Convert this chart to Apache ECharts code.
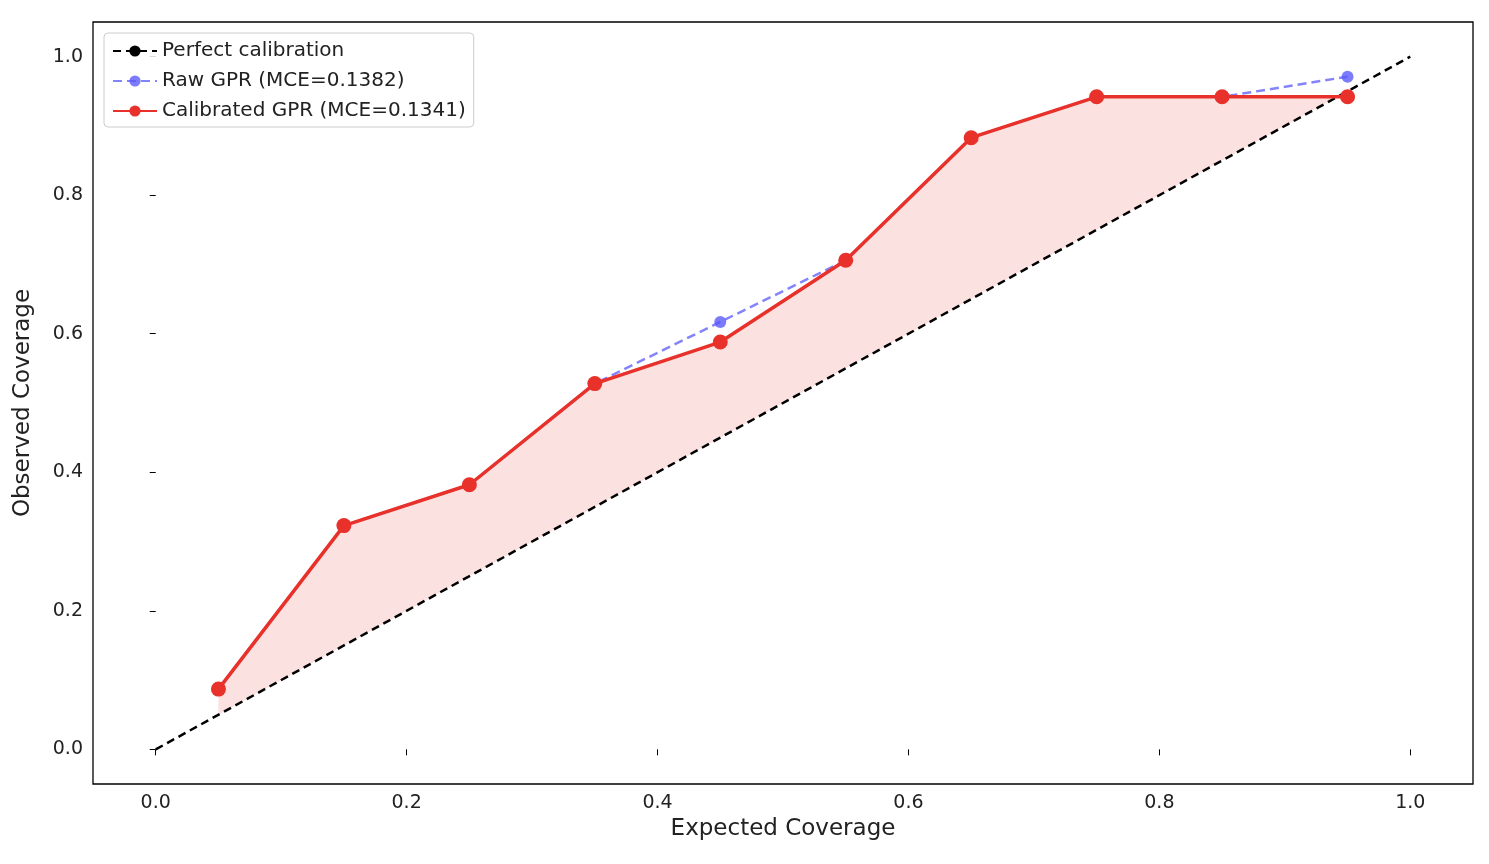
<!DOCTYPE html>
<html><head><meta charset="utf-8">
<script src="https://cdn.jsdelivr.net/npm/echarts@6/dist/echarts.min.js"></script>
<style>html,body{margin:0;background:#fff}#c{width:1489px;height:864px}</style>
</head><body><div id="c"></div>
<script>
// 数据
var expected = [0.05, 0.15, 0.25, 0.35, 0.45, 0.55, 0.65, 0.75, 0.85, 0.95];
var rawObs = [0.087, 0.323, 0.382, 0.528, 0.617, 0.706, 0.883, 0.942, 0.942, 0.971];
var calObs = [0.087, 0.323, 0.382, 0.528, 0.588, 0.706, 0.883, 0.942, 0.942, 0.942];
var diagX = [0, 1];
var tickLabels = ['0.0', '0.2', '0.4', '0.6', '0.8', '1.0'];

function pairs(xs, ys) {
	var out = [];
	for (var i = 0; i < xs.length; i++) out.push([xs[i], ys[i]]);
	return out;
}
var font = 'DejaVu Sans';
var myChart = echarts.init(document.getElementById('c'));
var axisCommon = {
	type: 'value', min: -0.05, max: 1.05, interval: 0.2,
	splitLine: { show: false },
	axisLine: { show: false },
	axisTick: { show: true, length: 6, lineStyle: { color: '#000' } },
	axisLabel: {
		color: '#222', fontSize: 19, fontFamily: font,
		formatter: function (v) {
			var k = Math.round(v * 10) / 2;
			return (Math.abs(v * 5 - Math.round(v * 5)) < 1e-6 && k >= 0) ? tickLabels[Math.round(v * 5)] : '';
		}
	},
	customValues: [0, 0.2, 0.4, 0.6, 0.8, 1.0]
};
var option = {
	animation: false,
	grid: { left: 93, right: 16, top: 22, bottom: 80, show: true, borderColor: '#000', borderWidth: 1.3 },
	xAxis: Object.assign({}, axisCommon, {
		name: 'Expected Coverage', nameLocation: 'middle', nameGap: 30,
		nameTextStyle: { fontSize: 23, fontFamily: font, color: '#222' },
		axisTick: { show: true, length: 6, lineStyle: { color: '#000' }, customValues: [0, 0.2, 0.4, 0.6, 0.8, 1.0] },
		axisLabel: Object.assign({}, axisCommon.axisLabel, { margin: 10, customValues: [0, 0.2, 0.4, 0.6, 0.8, 1.0] })
	}),
	yAxis: Object.assign({}, axisCommon, {
		name: 'Observed Coverage', nameLocation: 'middle', nameGap: 58,
		nameTextStyle: { fontSize: 23, fontFamily: font, color: '#222' },
		axisTick: { show: true, length: 6, lineStyle: { color: '#000' }, customValues: [0, 0.2, 0.4, 0.6, 0.8, 1.0] },
		axisLabel: Object.assign({}, axisCommon.axisLabel, { margin: 10, customValues: [0, 0.2, 0.4, 0.6, 0.8, 1.0] })
	}),
	legend: {
		orient: 'vertical', left: 104, top: 33, padding: [8, 8, 6, 8],
		itemGap: 10, itemWidth: 44, itemHeight: 14,
		borderColor: '#ccc', borderWidth: 1, borderRadius: 4, backgroundColor: 'rgba(255,255,255,0.85)',
		textStyle: { fontSize: 20, fontFamily: font, color: '#222' },
		data: ['Perfect calibration', 'Raw GPR (MCE=0.1382)', 'Calibrated GPR (MCE=0.1341)']
	},
	series: [{
		type: 'custom', silent: true, z: 1,
		renderItem: function (params, api) {
			var pts = [];
			for (var i = 0; i < expected.length; i++) pts.push(api.coord([expected[i], calObs[i]]));
			for (var j = expected.length - 1; j >= 0; j--) pts.push(api.coord([expected[j], expected[j]]));
			return params.dataIndex === 0 ? { type: 'polygon', shape: { points: pts }, style: { fill: 'rgba(236,90,90,0.18)' } } : null;
		},
		data: [[0, 0]]
	}, {
		name: 'Perfect calibration', type: 'line', symbol: 'none', z: 3,
		lineStyle: { color: '#000', width: 2.5, type: [8, 5] },
		itemStyle: { color: '#000' },
		data: pairs(diagX, diagX)
	}, {
		name: 'Raw GPR (MCE=0.1382)', type: 'line', symbol: 'circle', symbolSize: 12, z: 4,
		lineStyle: { color: 'rgba(90,90,250,0.75)', width: 2.5, type: [9, 5] },
		itemStyle: { color: 'rgba(90,90,250,0.8)' },
		data: pairs(expected, rawObs)
	}, {
		name: 'Calibrated GPR (MCE=0.1341)', type: 'line', symbol: 'circle', symbolSize: 15, z: 5,
		lineStyle: { color: '#e8312a', width: 3.5 },
		itemStyle: { color: '#e8312a' },
		data: pairs(expected, calObs)
	}]
};
myChart.setOption(option);
</script>
</body></html>
